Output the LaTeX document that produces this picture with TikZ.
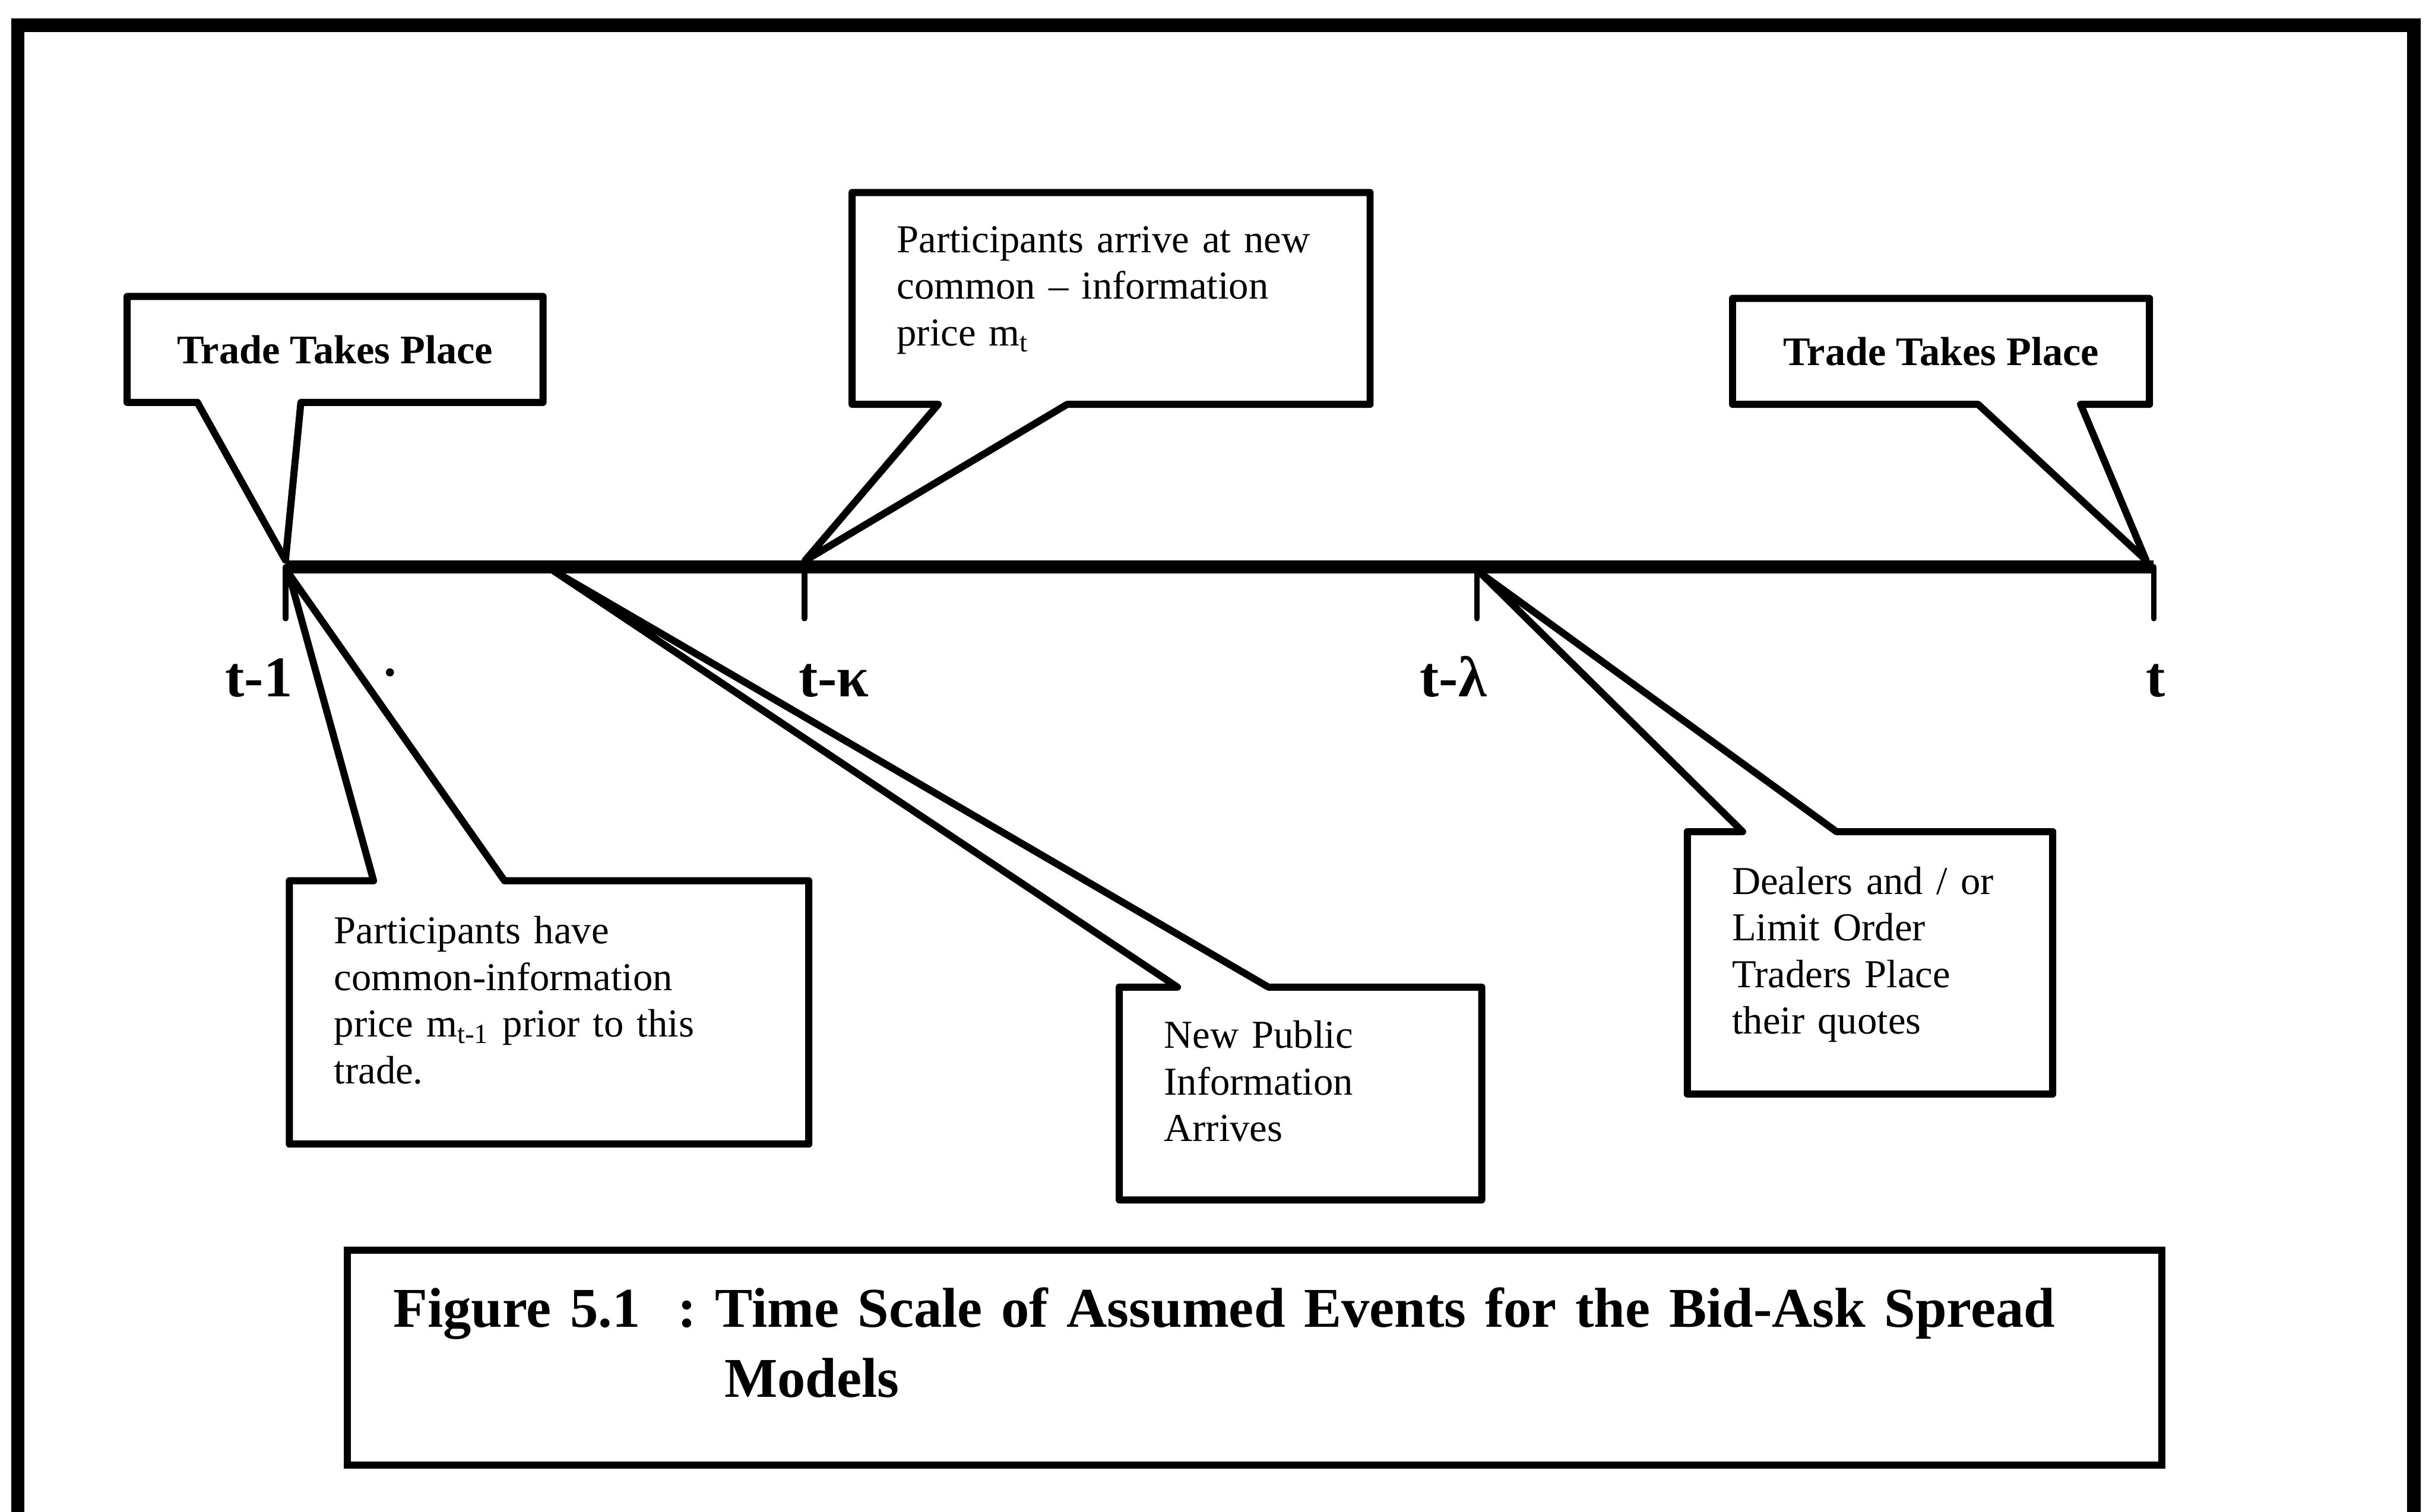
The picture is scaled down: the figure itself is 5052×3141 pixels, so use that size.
\documentclass[tikz,border=0pt]{standalone}
\usepackage{fontspec}
\setmainfont{Liberation Serif}
\frenchspacing
\usepackage{tikz}
\usetikzlibrary{calc}
\tikzstyle{frame} = [line width=4pt]
\tikzstyle{timeline} = [line width=4pt]
\tikzstyle{tick} = [line width=1.7pt, line cap=round]
\tikzstyle{balloon} = [draw, line width=2.1pt, line join=round]
\tikzstyle{tradebox} = [anchor=north west, inner sep=0pt, outer sep=0pt,
    minimum height=1.1cm, font=\bfseries\fontsize{12}{14}\selectfont]
\tikzstyle{notebox} = [anchor=north west, inner xsep=0.465cm, inner ysep=0pt,
    outer sep=0pt, align=left, font=\fontsize{11.7}{13.8}\selectfont,
    execute at end node={\rule[-2.6mm]{0pt}{2.6mm}}]
\tikzstyle{ticklabel} = [anchor=base, inner sep=0pt,
    font=\bfseries\fontsize{17}{20}\selectfont]
\tikzstyle{captionbox} = [draw, line width=2.1pt, anchor=north west,
    inner xsep=0.475cm, inner ysep=0pt, outer sep=0pt, align=left,
    text width=17.89cm, minimum height=2.23cm,
    font=\bfseries\fontsize{16.6}{20.6}\selectfont,
    execute at end node={\rule[-3.2mm]{0pt}{3.2mm}}]

\begin{document}
\begin{tikzpicture}[x=0.05mm, y=-0.05mm]
    \useasboundingbox (0,0) rectangle (5052,3141);
    \draw [frame] (37,3141) -- (37,52) -- (5014,52) -- (5014,3141);

    % Time points
    \coordinate (t1) at (593,1178);
    \coordinate (tk) at (1671,1178);
    \coordinate (tl) at (3068,1178);
    \coordinate (tt) at (4474,1178);
    \coordinate (tipA) at (593,1164);
    \coordinate (tipB) at (1672,1165);
    \coordinate (tipC) at (4458,1164);
    \coordinate (tipD) at (600,1192);
    \coordinate (tipE) at (1150,1186);
    \coordinate (tipF) at (3077,1192);

    % Place nodes
    \node [tradebox, minimum width=4.32cm] (trade1) at (264,616) {Trade Takes Place};
    \node [notebox, text width=4.45cm, minimum height=2.2cm] (arrive) at (1770,400)
        {Participants arrive at new\\common -- information\\price m\textsubscript{t}};
    \node [tradebox, minimum width=4.33cm] (trade2) at (3599,620) {Trade Takes Place};
    \node [notebox, text width=4.465cm, minimum height=2.735cm] (have) at (601,1830)
        {Participants have\\common-information\\price m\textsubscript{t-1} prior to this\\trade.};
    \node [notebox, text width=2.835cm, minimum height=2.21cm] (news) at (2325,2051)
        {New Public\\Information\\Arrives};
    \node [notebox, text width=2.865cm, minimum height=2.725cm] (quotes) at (3505,1728)
        {Dealers and / or\\Limit Order\\Traders Place\\their quotes};

    \node [ticklabel] (lab1) at (538,1447) {t-1};
    \node [ticklabel] (labk) at (1732,1447) {t-κ};
    \node [ticklabel] (labl) at (3019,1447) {t-λ};
    \node [ticklabel] (labt) at (4478,1447) {t};
    \fill (810,1397) circle [radius=0.42mm];

    \node [captionbox] (caption) at (722,2598)
        {Figure 5.1\ \ : Time Scale of Assumed Events for the Bid-Ask Spread\\\hspace*{3.44cm}Models};

    % Draw edges
    \draw [balloon] (trade1.north west) -- (trade1.north east) -- (trade1.south east)
        -- ($(trade1.south west)+(361,0)$) -- (tipA) -- ($(trade1.south west)+(146,0)$)
        -- (trade1.south west) -- cycle;
    \draw [balloon] (arrive.north west) -- (arrive.north east) -- (arrive.south east)
        -- ($(arrive.south west)+(447,0)$) -- (tipB) -- ($(arrive.south west)+(179,0)$)
        -- (arrive.south west) -- cycle;
    \draw [balloon] (trade2.north west) -- (trade2.north east) -- (trade2.south east)
        -- ($(trade2.south west)+(723,0)$) -- (tipC) -- ($(trade2.south west)+(510,0)$)
        -- (trade2.south west) -- cycle;
    \draw [balloon] (have.north west) -- ($(have.north west)+(175,0)$) -- (tipD)
        -- ($(have.north west)+(447,0)$) -- (have.north east) -- (have.south east)
        -- (have.south west) -- cycle;
    \draw [balloon] (news.north west) -- ($(news.north west)+(121,0)$) -- (tipE)
        -- ($(news.north west)+(310,0)$) -- (news.north east) -- (news.south east)
        -- (news.south west) -- cycle;
    \draw [balloon] (quotes.north west) -- ($(quotes.north west)+(115,0)$) -- (tipF)
        -- ($(quotes.north west)+(310,0)$) -- (quotes.north east) -- (quotes.south east)
        -- (quotes.south west) -- cycle;

    \draw [timeline] (t1) -- (tt);
    \foreach \t in {t1,tk,tl,tt}
        \draw [tick] (\t) -- ++(0,107);
\end{tikzpicture}
\end{document}
